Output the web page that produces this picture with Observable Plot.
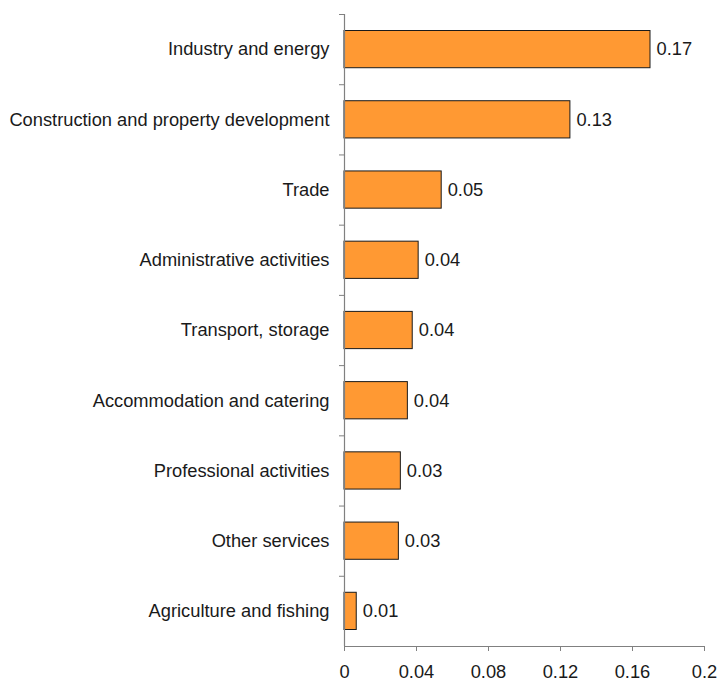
<!DOCTYPE html>
<html>
<head>
<meta charset="utf-8">
<script src="https://cdn.jsdelivr.net/npm/d3@7"></script>
<script src="https://cdn.jsdelivr.net/npm/@observablehq/plot@0.6"></script>
<style>
  html, body { margin: 0; padding: 0; background: #fff; }
  #chart { width: 717px; height: 682px; }
</style>
</head>
<body>
<div id="chart"></div>
<script>
const categories = [
  "Industry and energy",
  "Construction and property development",
  "Trade",
  "Administrative activities",
  "Transport, storage",
  "Accommodation and catering",
  "Professional activities",
  "Other services",
  "Agriculture and fishing"
];
const values = [0.170, 0.1255, 0.054, 0.0412, 0.0379, 0.0352, 0.0313, 0.0302, 0.0068];
const xTicks = [0, 0.04, 0.08, 0.12, 0.16, 0.2];

const data = categories.map((c, i) => ({category: c, value: values[i], i}));
const boundaries = d3.range(categories.length);

const font = "'Liberation Sans', Arial, Helvetica, sans-serif";
const axisColor = "#808080";

const chart = Plot.plot({
  width: 717,
  height: 682,
  marginLeft: 344,
  marginRight: 13,
  marginTop: 14,
  marginBottom: 36,
  style: {fontFamily: font, fontSize: "18px", color: "#1a1a1a", background: "#fff"},
  x: {domain: [0, 0.2], axis: null, label: null},
  y: {domain: [0, categories.length], reverse: true, axis: null, label: null},
  marks: [
    Plot.axisX({
      ticks: xTicks,
      tickSize: 5,
      tickPadding: 13,
      tickFormat: d => String(+d.toFixed(2)),
      stroke: axisColor,
      fill: "#1a1a1a",
      fontSize: 18.3,
      label: null
    }),
    Plot.axisY({
      ticks: boundaries,
      tickSize: 5,
      tickFormat: () => "",
      stroke: axisColor,
      anchor: "left",
      label: null
    }),
    Plot.rectX(data, {
      x1: 0,
      x2: "value",
      y1: "i",
      y2: d => d.i + 1,
      insetTop: 16.5,
      insetBottom: 16.5,
      fill: "#FF9933",
      stroke: "#1a1a1a",
      strokeWidth: 1
    }),
    Plot.ruleX([0], {stroke: axisColor, strokeWidth: 1.2}),
    Plot.ruleY([categories.length], {stroke: axisColor, strokeWidth: 1.2}),
    Plot.text(data, {
      x: "value",
      y: d => d.i + 0.5,
      text: d => d3.format(".2f")(d.value),
      textAnchor: "start",
      dx: 6,
      fill: "#1a1a1a",
      fontSize: 18.3
    }),
    Plot.text(data, {
      frameAnchor: "left",
      y: d => d.i + 0.5,
      text: "category",
      textAnchor: "end",
      dx: -15,
      fill: "#1a1a1a",
      fontSize: 18.3
    })
  ]
});
document.getElementById("chart").appendChild(chart);
</script>
</body>
</html>
